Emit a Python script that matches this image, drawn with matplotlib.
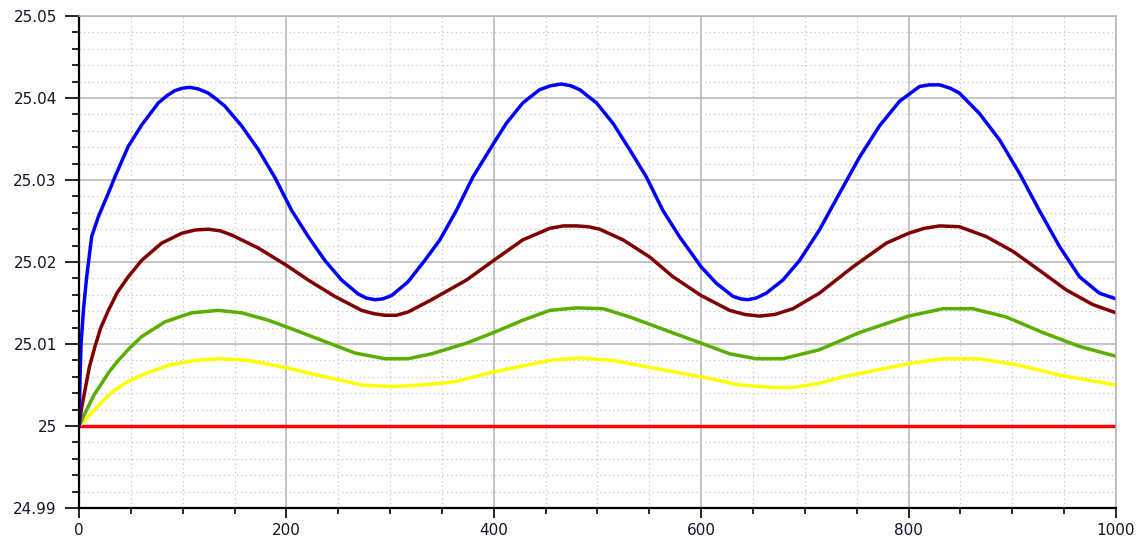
import numpy as np
import matplotlib.pyplot as plt
from matplotlib.ticker import MultipleLocator, FuncFormatter

# 数据点
blue_x = [0, 1, 2, 4.5, 7.4, 12.2, 18.6, 28.3, 34.7, 47.5, 60.4, 76.5, 85, 92.5, 100, 107,
          115, 124.6, 132, 140.7, 156.8, 172.9, 188.9, 205, 221, 237, 253.2, 269.2, 277,
          285.3, 293, 301.4, 317.4, 333.5, 348, 364, 380, 400, 412, 428, 444, 455, 465,
          474, 483, 499, 515, 531, 547, 563, 579, 600, 614.6, 630.7, 638, 645, 653, 662.8,
          678.8, 695, 714, 733.5, 752.8, 772, 791.3, 810.6, 820, 830, 840, 849, 868.4,
          887.7, 907, 926, 945.5, 964.8, 984, 1000]
blue_y = [25.0, 25.006, 25.0101, 25.0145, 25.0182, 25.0231, 25.0255, 25.0284, 25.0304,
          25.0341, 25.0367, 25.0394, 25.0403, 25.0409, 25.0412, 25.0413, 25.0411, 25.0406,
          25.0399, 25.0390, 25.0366, 25.0337, 25.0303, 25.0263, 25.0231, 25.0202, 25.0178,
          25.0161, 25.0156, 25.0154, 25.0155, 25.0159, 25.0176, 25.0202, 25.0227, 25.0263,
          25.0304, 25.0345, 25.0369, 25.0394, 25.0410, 25.0415, 25.0417, 25.0415, 25.0410,
          25.0394, 25.0369, 25.0337, 25.0304, 25.0263, 25.0231, 25.0194, 25.0174, 25.0158,
          25.0155, 25.0154, 25.0156, 25.0162, 25.0178, 25.0202, 25.0239, 25.0284, 25.0328,
          25.0366, 25.0396, 25.0414, 25.0416, 25.0416, 25.0412, 25.0406, 25.0381, 25.0349,
          25.0308, 25.0263, 25.0219, 25.0182, 25.0162, 25.0155]

maroon_x = [0, 2.5, 5.8, 10, 15.4, 21, 28.3, 37, 47.5, 60.4, 79.7, 99, 112, 124.6, 136, 147,
            172.9, 200, 221, 246.7, 272.5, 284, 295, 306, 317.4, 340, 373.7, 400, 428, 454,
            467, 479.7, 491, 502, 524.6, 550.4, 572.8, 600, 627.5, 642, 656.4, 671, 688.5,
            714, 746.3, 778.5, 800, 815, 830, 849, 874.9, 900.6, 926, 952, 977.7, 1000]
maroon_y = [25.0, 25.0022, 25.0044, 25.0072, 25.0097, 25.0120, 25.0141, 25.0163, 25.0182,
            25.0202, 25.0223, 25.0235, 25.0239, 25.0240, 25.0238, 25.0233, 25.0217, 25.0196,
            25.0178, 25.0158, 25.0141, 25.0137, 25.0135, 25.0135, 25.0139, 25.0154, 25.0178,
            25.0202, 25.0227, 25.0241, 25.0244, 25.0244, 25.0243, 25.0240, 25.0227, 25.0206,
            25.0182, 25.0159, 25.0141, 25.0136, 25.0134, 25.0136, 25.0143, 25.0162, 25.0194,
            25.0223, 25.0235, 25.0241, 25.0244, 25.0243, 25.0231, 25.0213, 25.0190, 25.0166,
            25.0148, 25.0138]

green_x = [0, 4, 9, 15, 21.9, 29, 37.9, 48, 60.4, 82.9, 108.6, 134.3, 156.8, 182.5, 208.2,
           237, 266, 295, 317.4, 340, 373.7, 400, 428, 454, 479.7, 505.4, 531, 556.8, 582.5,
           600, 627.5, 653, 678.8, 714, 752.8, 800, 833, 862, 894, 929.4, 964.8, 1000]
green_y = [25.0, 25.0011, 25.0024, 25.0039, 25.0052, 25.0066, 25.0080, 25.0094, 25.0109,
           25.0127, 25.0138, 25.0141, 25.0138, 25.0129, 25.0117, 25.0103, 25.0089, 25.0082,
           25.0082, 25.0088, 25.0101, 25.0114, 25.0129, 25.0141, 25.0144, 25.0143, 25.0133,
           25.0121, 25.0109, 25.0101, 25.0088, 25.0082, 25.0082, 25.0093, 25.0114, 25.0134,
           25.0143, 25.0143, 25.0133, 25.0114, 25.0097, 25.0085]

yellow_x = [0, 7, 15.4, 25, 34.7, 47, 60.4, 86, 111.8, 137.5, 163.2, 200, 237, 272.5, 301.4,
            330.3, 362.4, 400, 454, 483, 515, 556.8, 600, 637, 669.3, 688.5, 714, 736.7,
            800, 833, 868.4, 907, 945.5, 1000]
yellow_y = [25.0, 25.0009, 25.0020, 25.0033, 25.0044, 25.0054, 25.0062, 25.0074, 25.0080,
            25.0082, 25.0080, 25.0071, 25.0060, 25.0050, 25.0048, 25.0050, 25.0054, 25.0066,
            25.0080, 25.0083, 25.0080, 25.0070, 25.0060, 25.0050, 25.0047, 25.0047, 25.0052,
            25.0060, 25.0076, 25.0082, 25.0082, 25.0074, 25.0062, 25.0050]

red_x = [0, 1000]
red_y = [25.0, 25.0]

x_ticks = [0, 200, 400, 600, 800, 1000]
y_ticks = [24.99, 25.0, 25.01, 25.02, 25.03, 25.04, 25.05]

fig = plt.figure(figsize=(11.42, 5.38), dpi=100)
ax = fig.add_axes([0.0692, 0.0558, 0.9080, 0.9145])

# 网格
ax.xaxis.set_minor_locator(MultipleLocator(50))
ax.yaxis.set_minor_locator(MultipleLocator(0.002))
ax.grid(which='major', color='#b4b4b4', linewidth=1.1, linestyle='-')
ax.grid(which='minor', color='#c4c4c4', linewidth=0.9, linestyle=(0, (1, 2.5)))
ax.set_axisbelow(True)

lw = 2.5
ax.plot(red_x, red_y, color='#ff0000', linewidth=lw)
ax.plot(yellow_x, yellow_y, color='#ffff00', linewidth=lw)
ax.plot(green_x, green_y, color='#5aae00', linewidth=lw)
ax.plot(maroon_x, maroon_y, color='#800000', linewidth=lw)
ax.plot(blue_x, blue_y, color='#0000ff', linewidth=lw)

ax.set_xlim(0, 1000)
ax.set_ylim(24.99, 25.05)
ax.set_xticks(x_ticks)
ax.set_yticks(y_ticks)
ax.yaxis.set_major_formatter(FuncFormatter(lambda v, p: f'{v:.2f}'.rstrip('0').rstrip('.')))

ax.tick_params(axis='y', which='major', length=10, width=1.2, pad=6, labelsize=11,
               labelcolor='#14142a')
ax.tick_params(axis='y', which='minor', length=5, width=1.2)
ax.tick_params(axis='x', which='major', length=7, width=1.2, pad=4, labelsize=11,
               labelcolor='#14142a')
ax.tick_params(axis='x', which='minor', length=4, width=1.2)

for s in ['left', 'bottom']:
    ax.spines[s].set_color('black')
    ax.spines[s].set_linewidth(1.6)
for s in ['top', 'right']:
    ax.spines[s].set_color('#b4b4b4')
    ax.spines[s].set_linewidth(1.1)

plt.savefig('out.png', dpi=100)
